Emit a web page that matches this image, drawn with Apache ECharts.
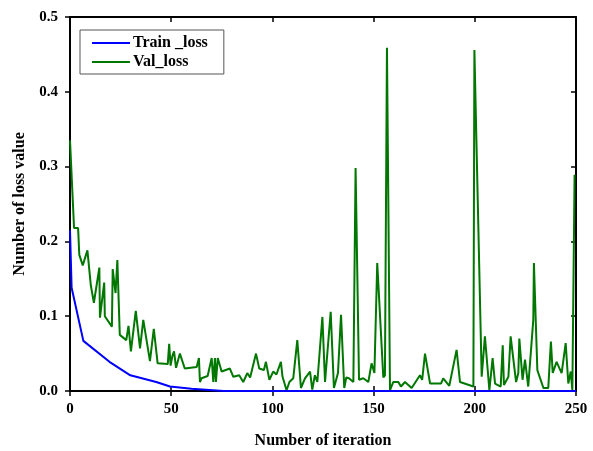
<!DOCTYPE html>
<html>
<head>
<meta charset="utf-8">
<script src="https://cdn.jsdelivr.net/npm/echarts@6/dist/echarts.min.js"></script>
<style>
  html, body { margin: 0; padding: 0; background: #fff; }
  #chart { width: 593px; height: 451px; }
</style>
</head>
<body>
<div id="chart"></div>
<script>
// data
const trainIter = [0, 0.8, 6.6, 19.5, 29.8, 42.6, 49.4, 60, 76, 100, 150, 200, 250];
const trainLoss = [0.215, 0.138, 0.067, 0.039, 0.021, 0.012, 0.006, 0.003, 0.0, 0.0, 0.0, 0.0, 0.0];

const valIter = [
  0, 2, 4, 4.6, 6.3, 8.6, 10.3, 11.8, 14.5, 14.8, 16.9, 17.2, 20.7, 21.1, 22.5, 23.4, 24.6, 27.8, 28.9, 30.1,
  32.5, 34.6, 36.2, 39.5, 41.4, 43.3, 48.3, 49, 49.7, 50.6, 51.4, 52.4, 54.3, 56.7, 62.6, 63.7, 64.2, 65, 68, 70,
  70.8, 71.6, 72.1, 73, 74.9, 79, 80.7, 83.6, 85.6, 86.5, 87.6, 89, 91.9, 93.5, 95.8, 96.8, 98.5, 100.4, 102, 104.2,
  105, 107, 108.4, 110.3, 112.3, 114.1, 116.1, 118.6, 119.7, 121, 122.2, 124.7, 126, 128.8, 130.4, 132.4, 133.9, 135.5, 136.5, 137.8,
  140, 141.1, 142.8, 144.9, 147.4, 149, 150.4, 151.8, 154.8, 155.6, 156.6, 158.1, 159.7, 162.2, 163.5, 165.5, 168.8, 172.9, 174, 175.4,
  177.9, 183.3, 184.4, 187.4, 191, 192.7, 199.3, 199.8, 203.4, 205, 207.2, 208.8, 210, 212.8, 213.8, 214.4, 216.6, 217.7, 220.4, 221.5,
  222, 223.6, 224.8, 226.4, 228.9, 229.2, 230.9, 233.9, 236.3, 237.6, 238.5, 240.4, 242.9, 244.9, 246.2, 247.4, 248.2, 249.3
];
const valLoss = [
  0.335, 0.218, 0.218, 0.182, 0.168, 0.188, 0.141, 0.118, 0.165, 0.098, 0.145, 0.100, 0.086, 0.163, 0.131, 0.175, 0.075, 0.068, 0.087, 0.053,
  0.107, 0.057, 0.095, 0.040, 0.083, 0.037, 0.036, 0.063, 0.034, 0.047, 0.053, 0.031, 0.050, 0.030, 0.032, 0.044, 0.012, 0.017, 0.020, 0.044,
  0.012, 0.044, 0.012, 0.044, 0.026, 0.030, 0.019, 0.021, 0.012, 0.013, 0.024, 0.018, 0.050, 0.030, 0.028, 0.039, 0.015, 0.026, 0.022, 0.039,
  0.019, 0.001, 0.012, 0.017, 0.068, 0.004, 0.017, 0.026, 0.002, 0.021, 0.012, 0.099, 0.012, 0.106, 0.004, 0.024, 0.102, 0.004, 0.018, 0.017,
  0.012, 0.298, 0.015, 0.017, 0.012, 0.037, 0.024, 0.171, 0.018, 0.021, 0.459, 0.001, 0.012, 0.012, 0.006, 0.012, 0.004, 0.021, 0.015, 0.050,
  0.010, 0.010, 0.017, 0.007, 0.055, 0.012, 0.006, 0.456, 0.019, 0.073, 0.001, 0.044, 0.010, 0.006, 0.061, 0.008, 0.019, 0.073, 0.012, 0.024,
  0.070, 0.015, 0.042, 0.006, 0.095, 0.171, 0.028, 0.004, 0.004, 0.066, 0.024, 0.039, 0.024, 0.064, 0.010, 0.026, 0.001, 0.289
];

const seriesNames = ['Train _loss', 'Val_loss'];
const lineColors = ['#0000ff', '#007700'];

const font = '"Liberation Serif", "Times New Roman", serif';

const chart = echarts.init(document.getElementById('chart'));

// extra axes only for the mirrored ticks of the frame
const mirrorAxis = (type, position, inside) => ({
  type: 'value',
  position: position,
  min: 0,
  max: type === 'x' ? 250 : 0.5,
  interval: type === 'x' ? 50 : 0.1,
  axisLine: { show: true, onZero: false, lineStyle: { color: '#000', width: 2 } },
  axisTick: { show: true, inside: inside, length: 5, lineStyle: { color: '#000', width: 1.5 } },
  axisLabel: { show: false },
  splitLine: { show: false }
});

chart.setOption({
  animation: false,
  backgroundColor: '#fff',
  grid: { left: 70, right: 17, top: 17, bottom: 60, containLabel: false, outerBoundsMode: 'none' },
  legend: {
    left: 80,
    top: 30,
    orient: 'vertical',
    data: seriesNames.map(n => ({ name: n, icon: 'rect' })),
    itemWidth: 38,
    itemHeight: 2,
    itemGap: 3,
    padding: [5, 16, 4, 12],
    borderColor: '#555',
    borderWidth: 1,
    borderRadius: 0,
    textStyle: { fontFamily: font, fontWeight: 'bold', fontSize: 16, color: '#000', padding: [0, 0, 0, -2] }
  },
  xAxis: [
    {
      type: 'value',
      position: 'bottom',
      min: 0,
      max: 250,
      interval: 50,
      name: 'Number of iteration',
      nameLocation: 'middle',
      nameGap: 42,
      nameTextStyle: { fontFamily: font, fontWeight: 'bold', fontSize: 16, color: '#000' },
      axisLine: { show: true, onZero: false, lineStyle: { color: '#000', width: 2 } },
      axisTick: { show: true, length: 5, lineStyle: { color: '#000', width: 1.5 } },
      axisLabel: { fontFamily: font, fontWeight: 'bold', fontSize: 15, color: '#000', margin: 11 },
      splitLine: { show: false }
    },
    mirrorAxis('x', 'bottom', true),
    mirrorAxis('x', 'top', true)
  ],
  yAxis: [
    {
      type: 'value',
      position: 'left',
      min: 0,
      max: 0.5,
      interval: 0.1,
      name: 'Number of loss value',
      nameLocation: 'middle',
      nameGap: 41,
      nameTextStyle: { fontFamily: font, fontWeight: 'bold', fontSize: 16, color: '#000' },
      axisLine: { show: true, onZero: false, lineStyle: { color: '#000', width: 2 } },
      axisTick: { show: true, length: 5, lineStyle: { color: '#000', width: 1.5 } },
      axisLabel: {
        fontFamily: font, fontWeight: 'bold', fontSize: 15, color: '#000', margin: 12,
        formatter: v => v.toFixed(1)
      },
      splitLine: { show: false }
    },
    mirrorAxis('y', 'right', true)
  ],
  series: [
    {
      name: seriesNames[0],
      type: 'line',
      xAxisIndex: 0,
      yAxisIndex: 0,
      showSymbol: false,
      z: 3,
      lineStyle: { color: lineColors[0], width: 2 },
      itemStyle: { color: lineColors[0] },
      data: trainIter.map((x, i) => [x, trainLoss[i]])
    },
    {
      name: seriesNames[1],
      type: 'line',
      xAxisIndex: 0,
      yAxisIndex: 0,
      showSymbol: false,
      z: 2,
      lineStyle: { color: lineColors[1], width: 2 },
      itemStyle: { color: lineColors[1] },
      data: valIter.map((x, i) => [x, valLoss[i]])
    }
  ]
});
</script>
</body>
</html>
